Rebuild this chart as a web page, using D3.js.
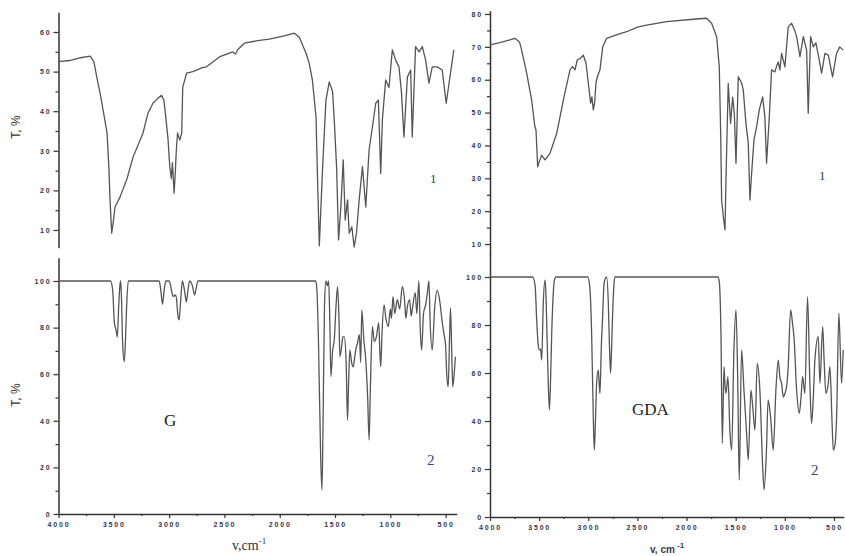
<!DOCTYPE html>
<html><head><meta charset="utf-8">
<script src="https://cdn.jsdelivr.net/npm/d3@7"></script>
<style>body{margin:0;background:#fff}</style>
</head><body><svg id="c" width="845" height="556" style="background:#fff"></svg>
<script>
// ---- tick values ----
const xTicks = [4000, 3500, 3000, 2500, 2000, 1500, 1000, 500];
const xMinorTicks = [3750, 3250, 2750, 2250, 1750, 1250, 750];
const gExpTicks = [10, 20, 30, 40, 50, 60];
const gExpMinor = [15, 25, 35, 45, 55];
const gdaExpTicks = [10, 20, 30, 40, 50, 60, 70, 80];
const gdaExpMinor = [15, 25, 35, 45, 55, 65, 75];
const calcTicks = [0, 20, 40, 60, 80, 100];
const calcMinor = [10, 30, 50, 70, 90];

// ---- G, experimental spectrum (1) ----
const gExpWn = [4000,3900,3800,3714,3680,3654,3620,3597,3561,3545,3534,3519,3505,3489,3444,3380,3326,3236,3191,3146,3100,3068,3047,3030,3010,2994,2980,2970,2955,2945,2935,2924,2904,2886,2877,2842,2785,2700,2662,2545,2426,2400,2380,2318,2200,2093,1960,1868,1823,1760,1733,1705,1672,1657,1642,1630,1612,1582,1552,1522,1507,1486,1468,1447,1426,1408,1387,1372,1348,1327,1306,1282,1252,1222,1192,1162,1132,1108,1087,1072,1042,1012,982,952,922,900,877,846,816,802,772,740,711,681,651,621,576,531,495,456,426];
const gExpT  = [52.5,52.8,53.5,53.9,52.5,48.6,44,40.3,34.5,26,17.6,9.2,12,15.8,18.3,23,28.4,34.5,39.5,42,43.3,44,42.8,38.5,33,26,23,27,19.3,24,30,34.5,32.7,34.5,46,49.6,50,51,51.2,53.7,55,54.4,55.5,57.2,57.8,58.2,59,59.7,58.7,54.5,52,47.9,38.6,21.8,6,14,26,42.8,47.4,44.9,37.8,26,7.5,15.8,27.7,12.5,17.6,9.2,10.8,5.7,9.2,17.6,26,15.8,30.2,36,42,42.8,24.3,37.8,47.9,46,55.5,52.9,51.2,45,33.5,48.6,50.4,33.5,56.3,55,56.3,52.9,47.1,51.2,51.2,50.4,42,49.6,55.5];

// ---- G, calculated spectrum (2) ----
const gCalcWn = [4000,3530,3510,3495,3480,3468,3455,3445,3438,3430,3420,3405,3395,3385,3369,3090,3075,3060,3045,3030,3000,2990,2975,2964,2945,2935,2920,2910,2895,2880,2865,2852,2844,2830,2814,2790,2769,2755,2739,1675,1665,1650,1630,1618,1608,1595,1582,1570,1558,1548,1537,1522,1507,1490,1477,1465,1456,1440,1430,1417,1400,1387,1378,1366,1350,1336,1320,1310,1297,1280,1268,1258,1240,1222,1205,1192,1180,1162,1145,1126,1105,1095,1087,1075,1057,1040,1018,1000,990,976,960,937,915,892,870,860,846,825,812,802,775,760,742,730,717,700,680,665,651,640,621,600,576,555,530,516,500,490,477,465,456,445,436,420,411];
const gCalcT  = [100,100,96,82,79,76,90,98,100,92,73,65.4,74,88,100,100,96,90,96,100,100,99,95,93.3,94,93,85,83.3,92,100,97,93,91,96,100,98,94,97,100,100,97,75,25,10.3,40,90,100,98,100,85,59,70,74.7,90,97.6,85,67.5,72,76,76,66,40.3,55,70.4,65,63.2,68,71,73.3,77,65,87.6,75,66,50,31.8,55,80.4,74,76,82,70,63.2,78,89.7,84,80.4,88,84,93.3,86,92,88,97.6,91,84,89,92,85,87.6,95,86,100,80,70.4,86,90,95,100,82,70.4,88,96,92,82,77.5,72,60,54.6,75,88.4,70,54.6,62,67.5];

// ---- GDA, experimental spectrum (1) ----
const gdaExpWn = [4000,3900,3797,3746,3700,3678,3627,3576,3545,3532,3515,3500,3474,3440,3390,3321,3254,3186,3160,3135,3112,3080,3051,3023,3000,2976,2963,2949,2935,2922,2908,2881,2853,2813,2700,2609,2500,2406,2203,1932,1796,1745,1694,1667,1653,1643,1626,1609,1599,1576,1552,1531,1514,1497,1474,1440,1423,1396,1372,1355,1338,1314,1287,1260,1226,1203,1186,1158,1135,1101,1085,1067,1050,1033,999,966,931,900,880,846,812,778,762,738,711,684,650,626,592,558,514,474,441,407];
const gdaExpT  = [70.6,71.3,72.1,72.6,71.5,69,62,53.8,46,44.7,33.5,35,37,35.6,37.6,43.7,53.8,63,64,63,66,66.5,67.5,65,59,52.9,54.8,50.8,53,59,60.9,63,70,72.6,73.8,74.6,76,76.6,77.7,78.4,78.7,77.2,73.1,64,43.8,23.4,18.3,14.3,29.5,58.9,46.7,54.7,49.8,34.6,60.9,59,56.9,46.8,40.7,23.4,31.5,41.7,45.7,50.8,54.8,48.7,34.6,48.7,63,62.4,64,65.4,63,68,63.9,76,77.2,75,73.1,67,73.1,69,49.8,73.1,70,71.2,66,62,68,67.5,60.9,68,70,69];

// ---- GDA, calculated spectrum (2) ----
const gdaCalcWn = [4000,3565,3540,3525,3510,3498,3485,3474,3458,3440,3430,3423,3410,3396,3385,3372,3355,3345,3329,3005,2985,2966,2949,2939,2927,2915,2898,2888,2881,2868,2854,2840,2830,2813,2796,2785,2773,2763,2752,2740,2729,1680,1667,1650,1636,1619,1609,1599,1579,1558,1541,1518,1497,1480,1464,1440,1416,1389,1372,1345,1325,1304,1281,1254,1227,1211,1187,1170,1145,1118,1091,1067,1050,1033,1015,999,980,966,941,920,907,880,853,835,819,796,769,745,728,710,694,660,643,615,600,582,560,541,520,507,490,473,450,423,406];
const gdaCalcT  = [100,100,96,82,72,69.6,70,65.4,89,98.7,92,80.7,60,44.6,55,76.5,94,98.7,100,100,96,76.7,41.8,27.9,40,55.7,61.3,55,51.5,70,83.5,97,99,100,89,72,60,70,85,96,100,100,98,76.5,30.7,62.6,55,51.5,58.5,34.9,27.9,69.6,86.3,58.5,15.4,69.6,52.9,34.9,23.8,52.9,45,36.2,64,52.9,22.4,11.3,27.9,48.75,41.8,27.9,52.9,65.4,58,55.7,50,51.5,55,62.6,86.3,80,75.1,52.9,43.2,50,58.5,51.5,91.8,55.7,39,50,65.4,75.1,55.7,79.3,65,51.5,55,62.6,40,27.9,30,41.8,84.9,55.7,69.6];

const svg = d3.select("#c");
const ink = "#333";
const tickInk = "#34344e";

function zip(a, b) { return a.map((v, i) => [v, b[i]]); }

function panel(o) {
  const x = d3.scaleLinear().domain([4000, 400]).range(o.xr);
  const y = d3.scaleLinear().domain(o.yd).range(o.yr);
  const g = svg.append("g");

  g.append("g").attr("transform", `translate(${o.xr[0]},0)`)
    .call(d3.axisLeft(y).tickValues(o.yt).tickFormat(d3.format("d")).tickSize(5).tickSizeOuter(0).tickPadding(2));
  g.append("g").attr("transform", `translate(${o.xr[0]},0)`)
    .call(d3.axisLeft(y).tickValues(o.ym).tickSize(3).tickFormat("").tickSizeOuter(0))
    .call(s => s.select(".domain").remove());

  if (o.xAxis) {
    g.append("g").attr("transform", `translate(0,${o.yr[0]})`)
      .call(d3.axisBottom(x).tickValues(xTicks).tickFormat(d3.format("d")).tickSize(4).tickSizeOuter(0).tickPadding(4));
    g.append("g").attr("transform", `translate(0,${o.yr[0]})`)
      .call(d3.axisBottom(x).tickValues(xMinorTicks).tickSize(2).tickFormat("").tickSizeOuter(0))
      .call(s => s.select(".domain").remove());
  }
  g.selectAll(".domain").attr("stroke", ink).attr("stroke-width", 1.5);
  g.selectAll(".tick line").attr("stroke", ink).attr("stroke-width", 1.2);
  g.selectAll(".tick text")
    .attr("fill", tickInk)
    .style("font-family", "Liberation Sans, Arial, sans-serif")
    .style("font-weight", "bold")
    .style("font-size", "7px")
    .style("letter-spacing", "1.8px");

  const line = d3.line().x(d => x(d[0])).y(d => y(d[1]))
    .curve(o.smooth ? d3.curveMonotoneX : d3.curveLinear);
  g.append("path").datum(zip(o.wn, o.t))
    .attr("fill", "none").attr("stroke", "#555").attr("stroke-width", 1.3)
    .attr("stroke-linejoin", "round")
    .attr("d", line);
}

panel({ wn: gExpWn, t: gExpT, xr: [58.5, 456.7], yd: [5.5, 65], yr: [247.8, 12.2], yt: gExpTicks, ym: gExpMinor, xAxis: false, smooth: false });
panel({ wn: gCalcWn, t: gCalcT, xr: [58.5, 456.7], yd: [0, 110], yr: [514, 257.7], yt: calcTicks, ym: calcMinor, xAxis: true, smooth: true });
panel({ wn: gdaExpWn, t: gdaExpT, xr: [490, 843.8], yd: [7, 81], yr: [253.9, 10.7], yt: gdaExpTicks, ym: gdaExpMinor, xAxis: false, smooth: false });
panel({ wn: gdaCalcWn, t: gdaCalcT, xr: [490, 843.8], yd: [0, 110], yr: [517, 253], yt: calcTicks, ym: calcMinor, xAxis: true, smooth: true });

function txt(x, y, s, size, fam, fill, extra) {
  const t = svg.append("text").attr("x", x).attr("y", y).text(s)
    .style("font-size", size + "px").style("font-family", fam).attr("fill", fill);
  if (extra) extra(t);
  return t;
}
const serif = "Liberation Serif, Times New Roman, serif";
const sans = "Liberation Sans, Arial, sans-serif";
txt(0, 0, "T, %", 12, sans, "#333", t => t.attr("text-anchor", "middle").attr("transform", "translate(20,127) rotate(-90)"));
txt(0, 0, "T, %", 12, sans, "#333", t => t.attr("text-anchor", "middle").attr("transform", "translate(20,395) rotate(-90)"));

const xl = svg.append("text").attr("x", 232).attr("y", 550).style("font-family", serif).style("font-size", "14px").attr("fill", "#333");
xl.append("tspan").text("v,cm");
xl.append("tspan").attr("dy", -6).style("font-size", "9px").text("-1");

const xr = svg.append("text").attr("x", 650).attr("y", 553).style("font-family", sans).style("font-size", "10px").style("font-weight", "bold").attr("fill", "#3a3a50");
xr.append("tspan").text("v, cm");
xr.append("tspan").attr("dy", -5).style("font-size", "8px").text(" -1");

txt(430, 183, "1", 13, serif, "#1d4a4a");
txt(819, 180, "1", 13, serif, "#1d4a4a");
txt(427, 465, "2", 15, serif, "#3a4470");
txt(811, 475, "2", 15, serif, "#3a4470");
txt(164, 426, "G", 17, serif, "#222");
txt(632, 415, "GDA", 17, serif, "#222");
</script>
</body></html>
